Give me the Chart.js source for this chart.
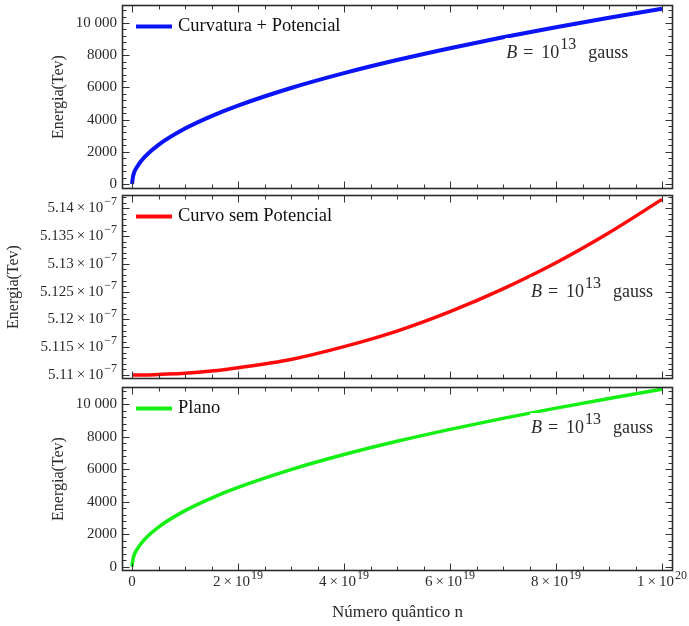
<!DOCTYPE html>
<html><head><meta charset="utf-8">
<script src="https://cdn.jsdelivr.net/npm/chart.js@4/dist/chart.umd.min.js"></script>
<style>
html,body{margin:0;padding:0;background:#fff;}
#wrap{position:relative;width:689px;height:626px;overflow:hidden;background:#fff;}
.pane{position:absolute;left:0;width:689px;}
</style></head><body>
<div id="wrap">
<div class="pane" style="top:0;height:192px"><canvas id="c1"></canvas></div>
<div class="pane" style="top:192px;height:194px"><canvas id="c2"></canvas></div>
<div class="pane" style="top:386px;height:240px;background:#fff"><canvas id="c3"></canvas></div>
</div>
<script>
// ---- data (n in units of 1e19) ----
const nQuantico = [0, 0.02, 0.1, 0.25, 0.5, 1, 1.5, 2, 3, 4, 5, 6, 7, 8, 9, 10];
const energiaCurvaturaPotencial = [0, 487, 1089, 1722, 2435, 3444, 4218, 4870, 5965, 6888, 7700, 8435, 9111, 9740, 10331, 10890];
// in units of 1e-7 Tev
const energiaCurvoSemPotencial = [5.1100, 5.1100, 5.1100, 5.1100, 5.1101, 5.1103, 5.1107, 5.1113, 5.1128, 5.1151, 5.1179, 5.1214, 5.1255, 5.1302, 5.1356, 5.1416];
const energiaPlano = [0, 490, 1092, 1727, 2441, 3452, 4228, 4882, 5980, 6905, 7720, 8456, 9134, 9765, 10357, 10925];

const seriesNames = ['Curvatura + Potencial', 'Curvo sem Potencial', 'Plano'];
const xTickValues = [0, 2, 4, 6, 8, 10];
const xTickLabels = ['0', '2×10^19', '4×10^19', '6×10^19', '8×10^19', '1×10^20'];
const energyTickValues = [0, 2000, 4000, 6000, 8000, 10000];
const energyTickLabels = ['0', '2000', '4000', '6000', '8000', '10 000'];
const curvoTickValues = [5.11, 5.115, 5.12, 5.125, 5.13, 5.135, 5.14];
const curvoTickLabels = ['5.11×10^−7', '5.115×10^−7', '5.12×10^−7', '5.125×10^−7', '5.13×10^−7', '5.135×10^−7', '5.14×10^−7'];
const yTitle = 'Energia(Tev)';
const xTitle = 'Número quântico n';
const annotationText = ['B', '=', '10', '13', 'gauss'];

const SERIF = '"Liberation Serif","DejaVu Serif","Times New Roman",serif';
const TXT = '#2a2a2a';
const X_MIN = -0.1887, X_MAX = 10.2075;

function range(a, b, s) { const r = []; for (let v = a; v <= b + s * 1e-6; v += s) r.push(+v.toFixed(6)); return r; }

// draws "base^sup" text; align: 'right' or 'center'
function drawSupLabel(ctx, label, x, y, align) {
  const parts = String(label).split('^');
  const base = parts[0].replace('×', '\u2009×\u2009');
  ctx.font = '15px ' + SERIF;
  const wb = ctx.measureText(base).width;
  let ws = 0;
  if (parts[1]) { ctx.font = '12px ' + SERIF; ws = ctx.measureText(parts[1]).width + 1; }
  const total = wb + ws;
  const x0 = align === 'right' ? x - total : x - total / 2;
  ctx.textAlign = 'left';
  ctx.textBaseline = 'middle';
  ctx.font = '15px ' + SERIF;
  ctx.fillText(base, x0, y);
  if (parts[1]) { ctx.font = '12px ' + SERIF; ctx.fillText(parts[1], x0 + wb + 1, y - 6); }
}

const decorPlugin = {
  id: 'decor',
  afterDatasetsDraw(chart, args, o) {
    const { ctx, chartArea: a, scales: { x, y } } = chart;
    ctx.save();
    // annotation with white background
    const ax = x.getPixelForValue(o.annot[0]);
    const ay = y.getPixelForValue(o.annot[1]);
    ctx.fillStyle = '#fff';
    ctx.fillRect(ax - 1, ay - 15, 126, 26);
    ctx.fillStyle = TXT;
    ctx.textBaseline = 'middle';
    ctx.textAlign = 'left';
    ctx.font = 'italic 18px ' + SERIF;
    ctx.fillText(annotationText[0], ax, ay);
    ctx.font = '18px ' + SERIF;
    ctx.fillText(annotationText[1], ax + 17, ay);
    ctx.fillText(annotationText[2], ax + 35, ay);
    ctx.font = '16px ' + SERIF;
    ctx.fillText(annotationText[3], ax + 54, ay - 8);
    ctx.font = '18px ' + SERIF;
    ctx.fillText(annotationText[4], ax + 82, ay);
    // legend
    const ly = a.top + 21.5;
    ctx.strokeStyle = o.color;
    ctx.lineWidth = 4;
    ctx.lineCap = 'butt';
    ctx.beginPath(); ctx.moveTo(a.left + 14, ly); ctx.lineTo(a.left + 50, ly); ctx.stroke();
    ctx.fillStyle = '#111';
    ctx.font = '18.5px ' + SERIF;
    ctx.fillText(o.legend, a.left + 56, ly);
    ctx.restore();
  },
  afterDraw(chart, args, o) {
    const { ctx, chartArea: a, scales: { x, y } } = chart;
    ctx.save();
    // tick labels from the library's own ticks, drawn with real superscripts
    ctx.fillStyle = TXT;
    y.ticks.forEach(t => drawSupLabel(ctx, t.label, a.left - 5, y.getPixelForValue(t.value), 'right'));
    if (o.showX) x.ticks.forEach(t => drawSupLabel(ctx, t.label, x.getPixelForValue(t.value), a.bottom + 11, 'center'));
    ctx.strokeStyle = '#333';
    ctx.lineWidth = 1;
    const L = Math.round(a.left) + 0.5, R = Math.round(a.right) - 0.5;
    const T = Math.round(a.top) + 0.5, B = Math.round(a.bottom) - 0.5;
    ctx.beginPath();
    const xt = (v, len) => { const p = Math.round(x.getPixelForValue(v)) + 0.5; if (p < L || p > R) return;
      ctx.moveTo(p, B); ctx.lineTo(p, B - len); ctx.moveTo(p, T); ctx.lineTo(p, T + len); };
    const yt = (v, len) => { const p = Math.round(y.getPixelForValue(v)) + 0.5; if (p < T || p > B) return;
      ctx.moveTo(L, p); ctx.lineTo(L + len, p); ctx.moveTo(R, p); ctx.lineTo(R - len, p); };
    o.xMinor.forEach(v => xt(v, 4));
    xTickValues.forEach(v => xt(v, 7));
    o.yMinor.forEach(v => yt(v, 4));
    o.yMajor.forEach(v => yt(v, 7));
    ctx.stroke();
    ctx.lineWidth = 1.6;
    ctx.strokeStyle = '#2b2b2b';
    ctx.strokeRect(Math.round(a.left) + 0.5, Math.round(a.top) + 0.5, Math.round(a.right - a.left) - 1, Math.round(a.bottom - a.top) - 1);
    ctx.restore();
  }
};

function makeChart(id, cfg) {
  return new Chart(document.getElementById(id), {
    type: 'line',
    data: {
      datasets: [{
        label: cfg.legend,
        data: nQuantico.map((n, i) => ({ x: n, y: cfg.values[i] })),
        borderColor: cfg.color, borderWidth: cfg.lw, pointRadius: 0,
        cubicInterpolationMode: 'monotone', fill: false
      }]
    },
    plugins: [decorPlugin],
    options: {
      responsive: true, maintainAspectRatio: false, animation: false, devicePixelRatio: 1,
      layout: { padding: cfg.padding },
      plugins: {
        legend: { display: false }, tooltip: { enabled: false },
        decor: { color: cfg.color, legend: cfg.legend, annot: cfg.annot, showX: cfg.showX,
                 xMinor: range(0, 10, 0.5), yMajor: cfg.yTicks, yMinor: cfg.yMinor }
      },
      scales: {
        x: {
          type: 'linear', min: X_MIN, max: X_MAX,
          grid: { display: false, drawTicks: false }, border: { display: false },
          afterBuildTicks: s => { s.ticks = xTickValues.map(v => ({ value: v })); },
          ticks: { display: cfg.showX, callback: (v, i) => xTickLabels[i], autoSkip: false, maxRotation: 0,
                   font: { family: SERIF, size: 15 }, color: 'rgba(0,0,0,0)', padding: 3 },
          title: { display: cfg.showX, text: xTitle, font: { family: SERIF, size: 17 }, color: TXT, padding: { top: 4, bottom: 3 } },
          afterFit: s => { s.height = cfg.xHeight; s.paddingLeft = 0; s.paddingRight = 0; }
        },
        y: {
          type: 'linear', min: cfg.yMin, max: cfg.yMax,
          grid: { display: false, drawTicks: false }, border: { display: false },
          afterBuildTicks: s => { s.ticks = cfg.yTicks.map(v => ({ value: v })); },
          ticks: { callback: (v, i) => cfg.yLabels[i], autoSkip: false,
                   font: { family: SERIF, size: 15 }, color: 'rgba(0,0,0,0)', padding: 5 },
          title: { display: true, text: yTitle, font: { family: SERIF, size: 16 }, color: TXT, padding: { top: 4, bottom: 4 } },
          afterFit: s => { s.width = cfg.yWidth; s.paddingTop = 0; s.paddingBottom = 0; }
        }
      }
    }
  });
}

makeChart('c1', {
  values: energiaCurvaturaPotencial, color: '#0a14f5', lw: 4, legend: seriesNames[0],
  padding: { top: 5, right: 16, bottom: 3, left: 45 }, yWidth: 77, xHeight: 0, showX: false,
  yMin: -310.6, yMax: 11118, yTicks: energyTickValues, yLabels: energyTickLabels, yMinor: range(0, 10800, 400),
  annot: [7.06, 8137]
});
makeChart('c2', {
  values: energiaCurvoSemPotencial, color: '#ff0a0a', lw: 3.5, legend: seriesNames[1],
  padding: { top: 3, right: 16, bottom: 7, left: 0 }, yWidth: 122, xHeight: 0, showX: false,
  yMin: 5.10928, yMax: 5.14239, yTicks: curvoTickValues, yLabels: curvoTickLabels, yMinor: range(5.11, 5.142, 0.001),
  annot: [7.53, 5.12494]
});
makeChart('c3', {
  values: energiaPlano, color: '#14f014', lw: 3.5, legend: seriesNames[2],
  padding: { top: 1, right: 16, bottom: 0, left: 45 }, yWidth: 77, xHeight: 55, showX: true,
  yMin: -265, yMax: 11065, yTicks: energyTickValues, yLabels: energyTickLabels, yMinor: range(0, 10800, 400),
  annot: [7.53, 8541]
});
</script>
</body></html>
